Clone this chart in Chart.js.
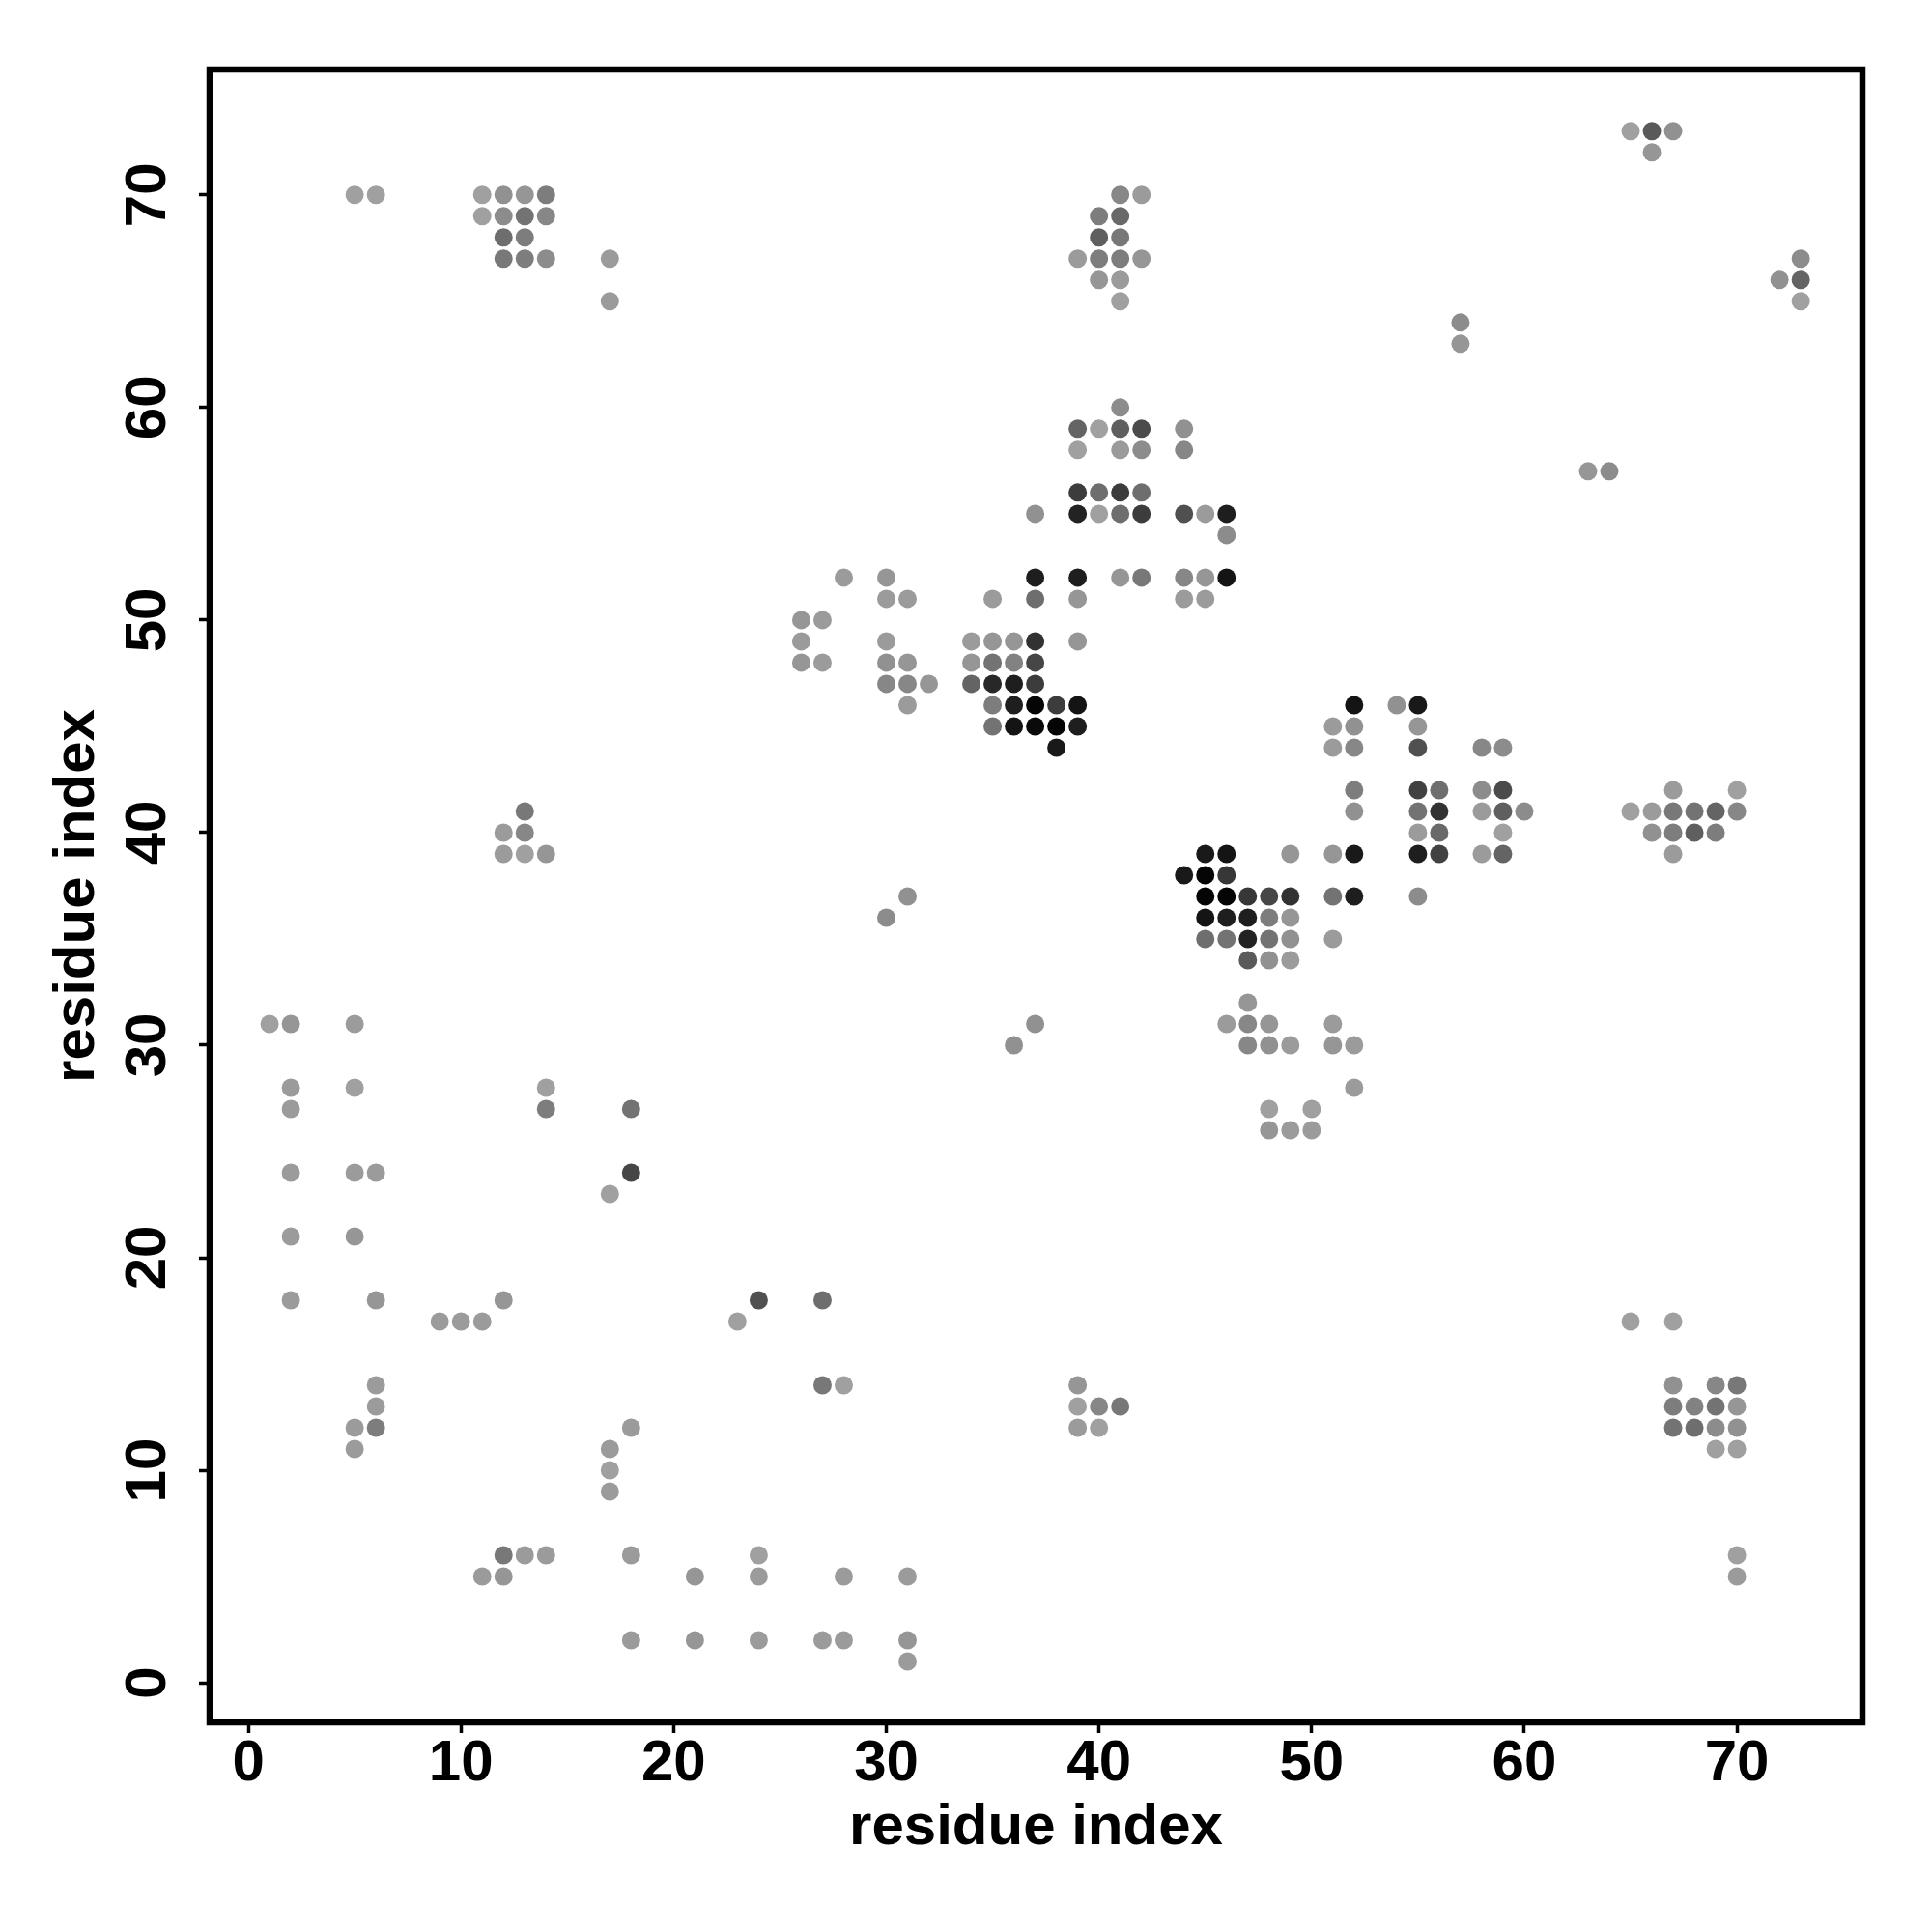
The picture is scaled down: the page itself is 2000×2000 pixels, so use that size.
<!DOCTYPE html>
<html>
<head>
<meta charset="utf-8">
<title>residue contacts</title>
<script src="https://cdn.jsdelivr.net/npm/chart.js@4"></script>
<style>
    html, body { margin: 0; padding: 0; background: #fff; }
    canvas { display: block; }
</style>
</head>
<body>
<canvas id="contactChart" width="2000" height="2000"></canvas>
<script>
// Contacts, one line per row (top row first)
const residueX = [
    65, 66, 67,
    66,
    5, 6, 11, 12, 13, 14, 41, 42,
    11, 12, 13, 14, 40, 41,
    12, 13, 40, 41,
    12, 13, 14, 17, 39, 40, 41, 42, 73,
    40, 41, 72, 73,
    17, 41, 73,
    57,
    57,
    41,
    39, 40, 41, 42, 44,
    39, 41, 42, 44,
    63, 64,
    39, 40, 41, 42,
    37, 39, 40, 41, 42, 44, 45, 46,
    46,
    28, 30, 37, 39, 41, 42, 44, 45, 46,
    30, 31, 35, 37, 39, 44, 45,
    26, 27,
    26, 30, 34, 35, 36, 37, 39,
    26, 27, 30, 31, 34, 35, 36, 37,
    30, 31, 32, 34, 35, 36, 37,
    31, 35, 36, 37, 38, 39, 52, 54, 55,
    35, 36, 37, 38, 39, 51, 52, 55,
    38, 51, 52, 55, 58, 59,
    52, 55, 56, 58, 59, 67, 70,
    13, 52, 55, 56, 58, 59, 60, 65, 66, 67, 68, 69, 70,
    12, 13, 55, 56, 59, 66, 67, 68, 69,
    12, 13, 14, 45, 46, 49, 51, 52, 55, 56, 58, 59, 67,
    44, 45, 46,
    31, 45, 46, 47, 48, 49, 51, 52, 55,
    30, 45, 46, 47, 48, 49,
    45, 46, 47, 48, 49, 51,
    47, 48, 49,
    47,
    1, 2, 5, 37, 46, 47, 48, 51,
    36, 47, 48, 49, 51, 52,
    2, 5, 14, 52,
    2, 14, 18, 48, 50,
    48, 49, 50,
    2, 5, 6, 18,
    17,
    2, 5,
    2, 6, 12, 24, 27,
    9, 10, 11, 23, 65, 67,
    6, 27, 28, 39, 67, 69, 70,
    6, 39, 40, 41, 67, 68, 69, 70,
    5, 6, 18, 39, 40, 67, 68, 69, 70,
    5, 17, 69, 70,
    17,
    17,
    12, 13, 14, 18, 24, 70,
    11, 12, 21, 24, 28, 31, 70,
    18, 21, 24, 27, 28, 31,
    31
];
const residueY = [
    73, 73, 73,
    72,
    70, 70, 70, 70, 70, 70, 70, 70,
    69, 69, 69, 69, 69, 69,
    68, 68, 68, 68,
    67, 67, 67, 67, 67, 67, 67, 67, 67,
    66, 66, 66, 66,
    65, 65, 65,
    64,
    63,
    60,
    59, 59, 59, 59, 59,
    58, 58, 58, 58,
    57, 57,
    56, 56, 56, 56,
    55, 55, 55, 55, 55, 55, 55, 55,
    54,
    52, 52, 52, 52, 52, 52, 52, 52, 52,
    51, 51, 51, 51, 51, 51, 51,
    50, 50,
    49, 49, 49, 49, 49, 49, 49,
    48, 48, 48, 48, 48, 48, 48, 48,
    47, 47, 47, 47, 47, 47, 47,
    46, 46, 46, 46, 46, 46, 46, 46, 46,
    45, 45, 45, 45, 45, 45, 45, 45,
    44, 44, 44, 44, 44, 44,
    42, 42, 42, 42, 42, 42, 42,
    41, 41, 41, 41, 41, 41, 41, 41, 41, 41, 41, 41, 41,
    40, 40, 40, 40, 40, 40, 40, 40, 40,
    39, 39, 39, 39, 39, 39, 39, 39, 39, 39, 39, 39, 39,
    38, 38, 38,
    37, 37, 37, 37, 37, 37, 37, 37, 37,
    36, 36, 36, 36, 36, 36,
    35, 35, 35, 35, 35, 35,
    34, 34, 34,
    32,
    31, 31, 31, 31, 31, 31, 31, 31,
    30, 30, 30, 30, 30, 30,
    28, 28, 28, 28,
    27, 27, 27, 27, 27,
    26, 26, 26,
    24, 24, 24, 24,
    23,
    21, 21,
    18, 18, 18, 18, 18,
    17, 17, 17, 17, 17, 17,
    14, 14, 14, 14, 14, 14, 14,
    13, 13, 13, 13, 13, 13, 13, 13,
    12, 12, 12, 12, 12, 12, 12, 12, 12,
    11, 11, 11, 11,
    10,
    9,
    6, 6, 6, 6, 6, 6,
    5, 5, 5, 5, 5, 5, 5,
    2, 2, 2, 2, 2, 2,
    1
];
// grey value of each dot, 0 is black
const greyLevel = [
    160, 90, 145,
    150,
    160, 160, 160, 145, 150, 125, 135, 155,
    160, 140, 115, 135, 125, 105,
    110, 125, 95, 120,
    120, 125, 140, 155, 155, 125, 125, 150, 140,
    150, 155, 145, 100,
    155, 160, 160,
    140,
    150,
    140,
    100, 160, 95, 75, 145,
    160, 155, 140, 135,
    150, 140,
    60, 110, 60, 110,
    145, 35, 160, 110, 60, 80, 155, 30,
    140,
    155, 150, 30, 30, 150, 120, 135, 150, 20,
    155, 155, 155, 110, 150, 155, 155,
    150, 155,
    155, 155, 155, 150, 150, 50, 150,
    150, 155, 145, 150, 150, 115, 130, 70,
    135, 135, 150, 100, 40, 30, 60,
    155, 125, 30, 5, 60, 20, 20, 145, 25,
    115, 20, 10, 5, 30, 155, 145, 150,
    25, 155, 135, 80, 135, 140,
    125, 65, 110, 140, 75, 155, 160,
    120, 145, 115, 50, 155, 95, 140, 160, 155, 120, 115, 100, 135,
    155, 135, 155, 105, 160, 145, 125, 95, 125,
    155, 160, 150, 25, 20, 150, 150, 25, 30, 65, 155, 100, 155,
    25, 5, 55,
    145, 5, 5, 55, 70, 50, 115, 30, 140,
    140, 20, 30, 30, 125, 150,
    110, 115, 35, 115, 145, 155,
    90, 145, 155,
    150,
    160, 150, 155, 145, 155, 135, 150, 155,
    145, 135, 145, 155, 150, 155,
    155, 160, 160, 155,
    155, 125, 115, 160, 160,
    150, 155, 155,
    155, 155, 155, 70,
    160,
    155, 150,
    155, 150, 150, 80, 110,
    155, 155, 155, 160, 160, 160,
    155, 120, 160, 150, 145, 135, 120,
    155, 160, 135, 120, 125, 130, 115, 150,
    155, 125, 155, 155, 160, 115, 110, 140, 145,
    155, 155, 160, 160,
    160,
    155,
    120, 155, 155, 155, 160, 160,
    155, 150, 150, 155, 155, 155, 155,
    155, 150, 155, 155, 155, 150,
    155
];
const axisTicks = [0, 10, 20, 30, 40, 50, 60, 70];

// Frame around the plot area, the axes only give the bottom and left side
const framePlugin = {
    id: 'frame',
    afterDraw(chart) {
        const { ctx, chartArea } = chart;
        ctx.save();
        ctx.strokeStyle = '#000';
        ctx.lineWidth = 6.5;
        ctx.strokeRect(chartArea.left, chartArea.top, chartArea.right - chartArea.left, chartArea.bottom - chartArea.top);
        ctx.restore();
    }
};

function axisOptions(min, max) {
    return {
        type: 'linear',
        min: min,
        max: max,
        afterBuildTicks: scale => {
            scale.ticks = axisTicks.map(value => ({ value: value }));
        },
        border: { display: false },
        grid: {
            drawOnChartArea: false,
            drawTicks: true,
            tickLength: 11,
            tickWidth: 3.5,
            tickColor: '#000'
        },
        title: {
            display: true,
            text: 'residue index',
            color: '#000',
            font: { family: '"Liberation Sans"', weight: 'bold', size: 60, lineHeight: 1 }
        },
        ticks: {
            color: '#000',
            autoSkip: false,
            includeBounds: false,
            font: { family: '"Liberation Sans"', weight: 'bold', size: 60, lineHeight: 1 }
        }
    };
}

const xAxis = axisOptions(-1.82, 75.9);
xAxis.afterFit = scale => { scale.height = 217; };
xAxis.ticks.maxRotation = 0;
xAxis.ticks.minRotation = 0;
xAxis.ticks.padding = 2;
xAxis.title.padding = { top: 0, bottom: 78 };

const yAxis = axisOptions(-1.86, 75.9);
yAxis.afterFit = scale => { scale.width = 217; };
yAxis.ticks.minRotation = 90;
yAxis.ticks.maxRotation = 90;
yAxis.ticks.crossAlign = 'center';
yAxis.ticks.padding = 18;
yAxis.title.padding = { top: 50, bottom: 0 };

new Chart(document.getElementById('contactChart'), {
    type: 'scatter',
    data: {
        datasets: [{
            data: residueX.map((x, i) => ({ x: x, y: residueY[i] })),
            backgroundColor: greyLevel.map(g => `rgb(${g}, ${g}, ${g})`),
            borderWidth: 0,
            pointRadius: 9.5,
            pointHoverRadius: 9.5
        }]
    },
    options: {
        responsive: false,
        devicePixelRatio: 1,
        animation: false,
        layout: { padding: { top: 72, right: 72, bottom: 0, left: 0 } },
        plugins: {
            legend: { display: false },
            tooltip: { enabled: false }
        },
        scales: { x: xAxis, y: yAxis }
    },
    plugins: [framePlugin]
});
</script>
</body>
</html>
